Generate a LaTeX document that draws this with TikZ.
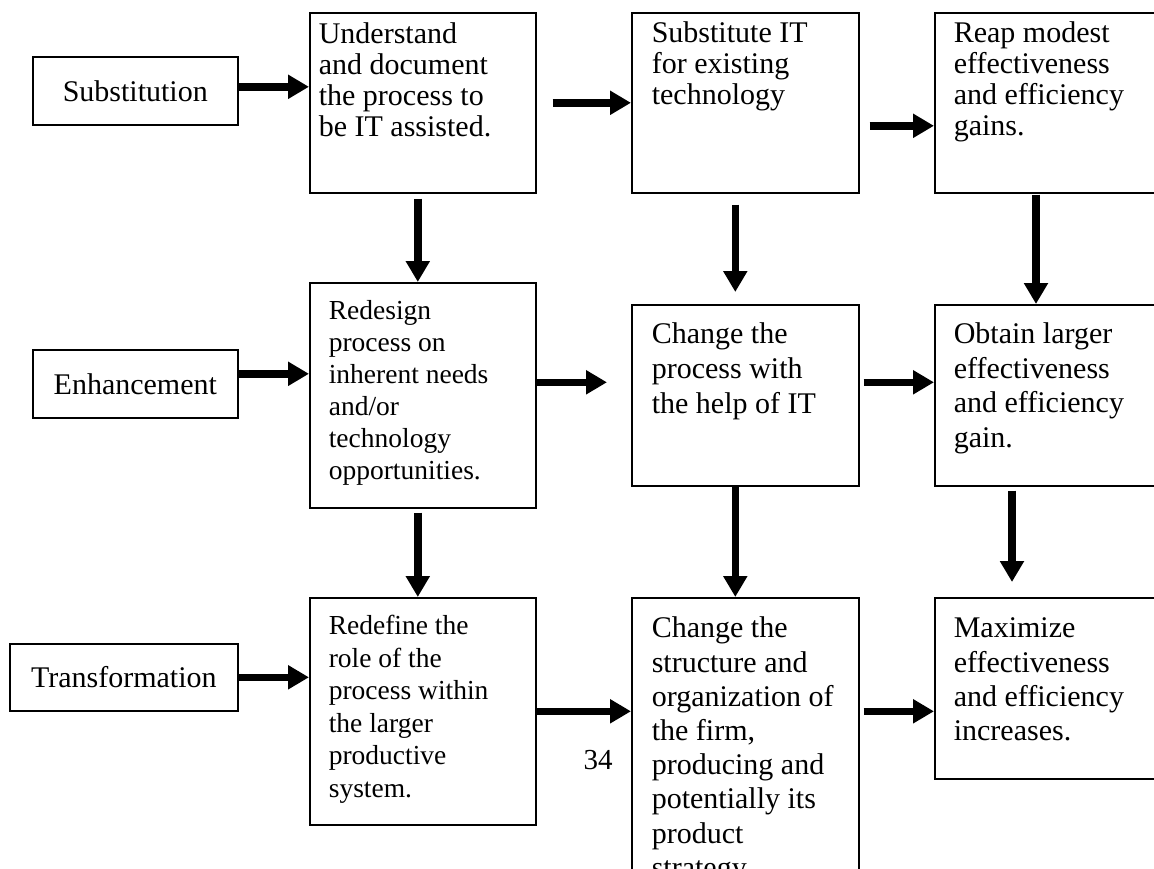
\documentclass[tikz,border=0pt]{standalone}
\usepackage{fontspec}
\setmainfont{Liberation Serif}
\usetikzlibrary{arrows.meta,calc}

% box text: width, height, left pad, first baseline, lines
\newcommand{\stagetext}[5]{%
  \parbox[t][#2pt][t]{#1pt}{\raggedright\leftskip=#3pt\rule{0pt}{#4pt}#5}}

\begin{document}
\begin{tikzpicture}[x=1pt, y=-1pt,
  phase/.style={draw, line width=1.6pt, anchor=north west, inner sep=0pt,
    minimum height=68pt, font=\fontsize{30}{31}\selectfont},
  stage/.style={draw, line width=1.6pt, anchor=north west, inner sep=0pt,
    font=\fontsize{30}{31}\selectfont},
  flow/.style={line width=7.5pt, -{Triangle[length=21pt, width=23pt]}}]

  \useasboundingbox (0,0) rectangle (1154,869);
  \clip (0,0) rectangle (1154,869);

  % left column
  \node[phase, minimum width=205pt] (subst) at (32,56) {Substitution};
  \node[phase, minimum width=205pt] (enh) at (32,349) {Enhancement};
  \node[phase, minimum width=228pt, minimum height=67pt] (trans) at (9,643) {Transformation};

  % first row
  \node[stage] (und) at (309,12)
    {\stagetext{226}{180}{9}{31}{Understand\\and document\\the process to\\be IT assisted.}};
  \node[stage] (sub) at (631,12)
    {\stagetext{227}{180}{20}{30}{Substitute IT\\for existing\\technology}};
  \node[stage] (reap) at (934,12)
    {\stagetext{240}{180}{19}{30}{Reap modest\\effectiveness\\and efficiency\\gains.}};

  % second row
  \node[stage, font=\fontsize{27.5}{32}\selectfont] (rds) at (309,282)
    {\stagetext{226}{225}{19}{37}{Redesign\\process on\\inherent needs\\and/or\\technology\\opportunities.}};
  \node[stage, font=\fontsize{30}{35}\selectfont] (chg) at (631,304)
    {\stagetext{227}{181}{20}{39}{Change the\\process with\\the help of IT}};
  \node[stage, font=\fontsize{30}{34.5}\selectfont] (obt) at (934,304)
    {\stagetext{240}{181}{19}{39}{Obtain larger\\effectiveness\\and efficiency\\gain.}};

  % third row
  \node[stage, font=\fontsize{27.5}{32.5}\selectfont] (rdf) at (309,597)
    {\stagetext{226}{227}{19}{37}{Redefine the\\role of the\\process within\\the larger\\productive\\system.}};
  \node[stage, font=\fontsize{30}{34.2}\selectfont] (str) at (631,597)
    {\stagetext{227}{300}{20}{40}{Change the\\structure and\\organization of\\the firm,\\producing and\\potentially its\\product\\strategy.}};
  \node[stage, font=\fontsize{30}{34.3}\selectfont] (max) at (934,597)
    {\stagetext{240}{181}{19}{40}{Maximize\\effectiveness\\and efficiency\\increases.}};

  \node[font=\fontsize{29}{31}\selectfont] (pg) at (598,760) {34};

  % horizontal arrows
  \coordinate (a1) at ($(subst.east)+(0,-4)$);
  \coordinate (a2) at ($(und.east)+(16,0)$);
  \coordinate (a3) at ($(sub.east)+(10,23)$);
  \coordinate (a4) at ($(enh.east)+(0,-10)$);
  \coordinate (a5) at ($(rds.east)+(0,-13)$);
  \coordinate (a6) at ($(chg.east)+(4,-13)$);
  \coordinate (a9) at ($(str.east |- rdf.east)+(4,0)$);

  \draw[flow] (a1) -- (und.west |- a1);
  \draw[flow] (a2) -- (sub.west |- a2);
  \draw[flow] (a3) -- (reap.west |- a3);
  \draw[flow] (a4) -- (rds.west |- a4);
  \draw[flow] (a5) -- ($(chg.west |- a5)+(-24,0)$);
  \draw[flow] (a6) -- (obt.west |- a6);
  \draw[flow] (trans.east) -- (rdf.west |- trans.east);
  \draw[flow] (rdf.east) -- (str.west |- rdf.east);
  \draw[flow] (a9) -- (max.west |- a9);

  % vertical arrows
  \draw[flow] ($(und.south)+(-5,5)$) -- ($(rds.north)+(-5,0)$);
  \draw[flow] ($(rds.south)+(-5,4)$) -- ($(rdf.north)+(-5,0)$);
  \draw[flow] ($(sub.south)+(-10,11)$) -- ($(chg.north)+(-10,-12)$);
  \draw[flow] ($(chg.south)+(-10,0)$) -- ($(str.north)+(-10,0)$);
  \draw[flow] ($(reap.south west)+(102,1)$) -- ($(obt.north west)+(102,0)$);
  \draw[flow] ($(obt.south west)+(78,4)$) -- ($(max.north west)+(78,-15)$);
\end{tikzpicture}
\end{document}
